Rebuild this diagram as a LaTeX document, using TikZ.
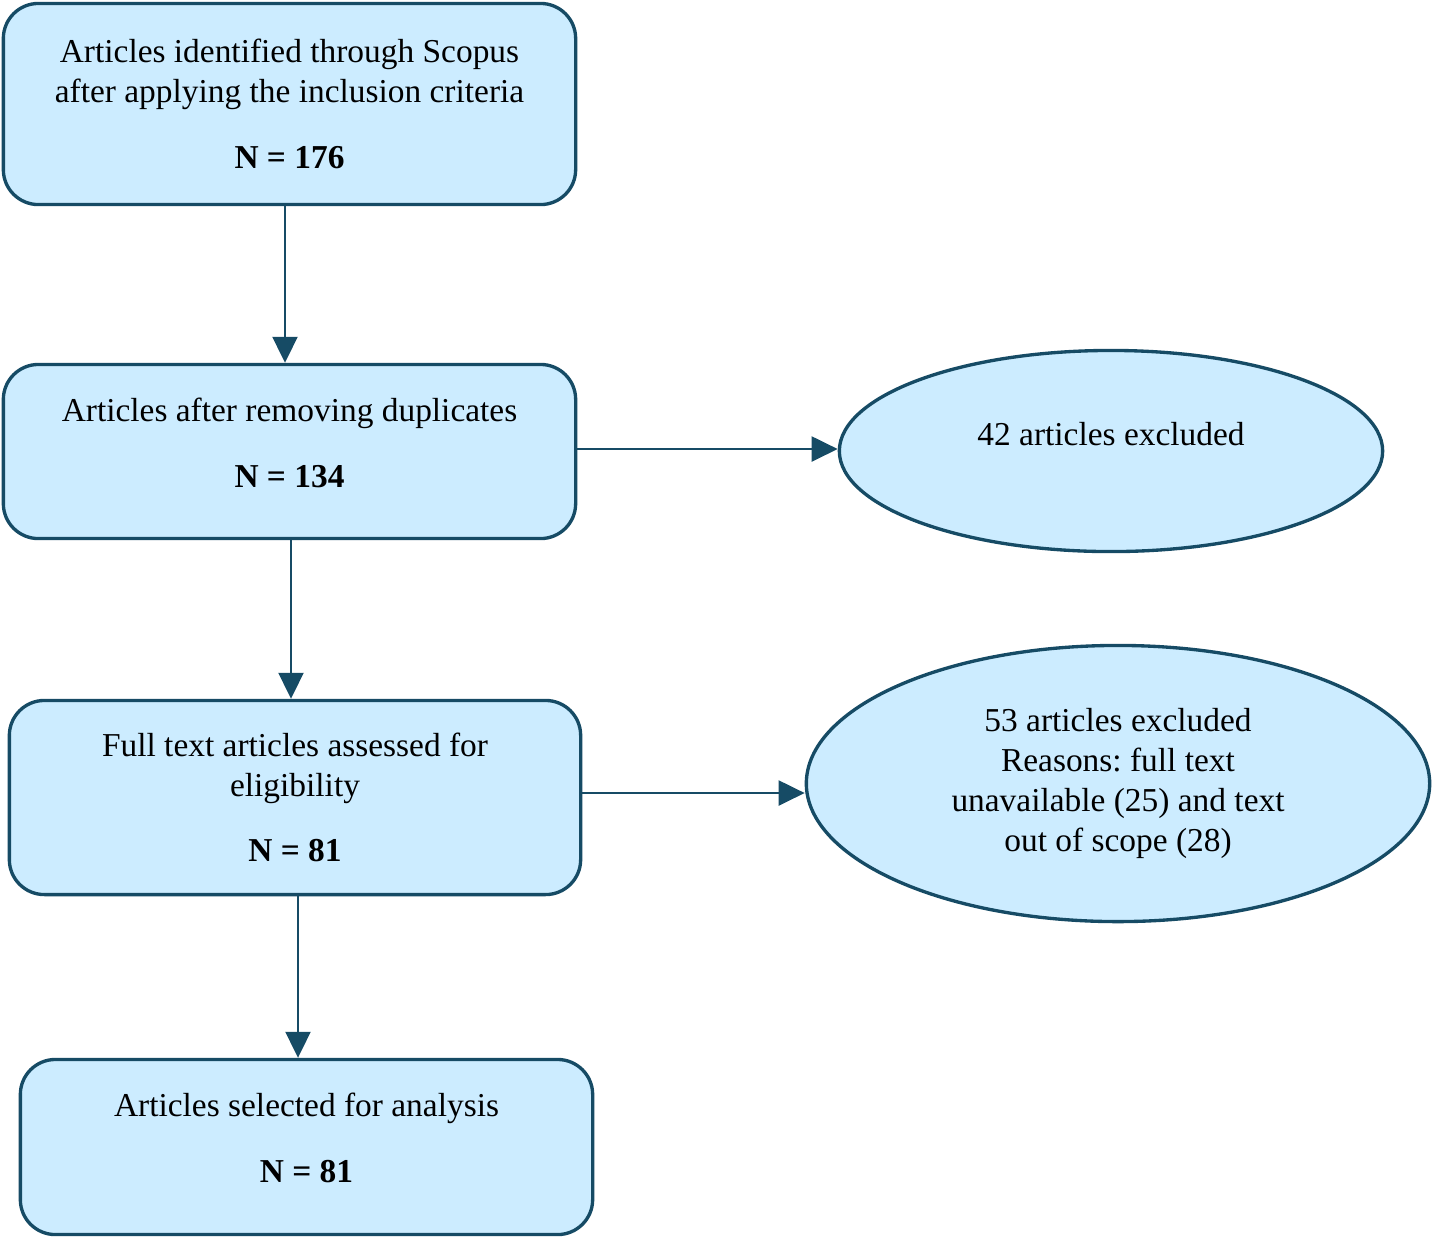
\documentclass[tikz,border=0pt]{standalone}
\usepackage{fontspec}
\setmainfont{Liberation Serif}
\usepackage{tikz}
\usetikzlibrary{arrows.meta,positioning,calc,shapes.geometric}
\frenchspacing
\definecolor{inkteal}{HTML}{164B65}
\definecolor{paleblue}{HTML}{CCECFF}
\tikzset{stage/.style={rectangle,rounded corners=0.35cm,draw=inkteal,fill=paleblue,
  line width=0.95pt,minimum width=5.72cm,align=center,inner sep=0pt,
  font=\fontsize{9.5}{11.4}\selectfont},
  excl/.style={ellipse,draw=inkteal,fill=paleblue,line width=0.95pt,inner sep=0pt,
  align=center,font=\fontsize{9.5}{11.4}\selectfont},
  flow/.style={-{Triangle[length=0.26cm,width=0.25cm]},line width=0.6pt,draw=inkteal}}

\begin{document}
\begin{tikzpicture}[x=0.01cm,y=-0.01cm]
 \useasboundingbox (0,0) rectangle (1433,1238);
 \node[stage,minimum height=2.01cm] (id)  at (289.5,104)
  {Articles identified through Scopus\\after applying the inclusion criteria\\[0.26cm]\textbf{N = 176}};
 \node[stage,minimum height=1.74cm,text depth=0.18cm] (dup) at (289.5,451.5)
  {Articles after removing duplicates\\[0.26cm]\textbf{N = 134}};
 \node[stage,minimum width=5.71cm,minimum height=1.94cm] (full) at (295,797.5)
  {Full text articles assessed for\\eligibility\\[0.25cm]\textbf{N = 81}};
 \node[stage,minimum height=1.75cm,text depth=0.19cm] (sel) at (306.5,1147)
  {Articles selected for analysis\\[0.26cm]\textbf{N = 81}};
 \node[excl,minimum width=5.43cm,minimum height=2.01cm,text height=0.23cm,text depth=0.35cm] (ex1) at (1111,451)
  {42 articles excluded};
 \node[excl,minimum width=6.23cm,minimum height=2.76cm] (ex2) at (1118,783.5)
  {53 articles excluded\\Reasons: full text\\unavailable (25) and text\\out of scope (28)};
 \draw[flow] ([xshift=-0.045cm]id.south) -- ([xshift=-0.045cm]dup.north);
 \draw[flow] ([xshift=0.015cm]dup.south) -- ([xshift=0.015cm]dup.south |- full.north);
 \draw[flow] ([xshift=0.03cm]full.south) -- ([xshift=0.03cm]full.south |- sel.north);
 \draw[flow] ([yshift=0.025cm]dup.east) -- ([yshift=0.025cm]dup.east -| ex1.west);
 \draw[flow] ([yshift=0.045cm]full.east) -- ([yshift=0.045cm]full.east -| ex2.west);
\end{tikzpicture}
\end{document}
